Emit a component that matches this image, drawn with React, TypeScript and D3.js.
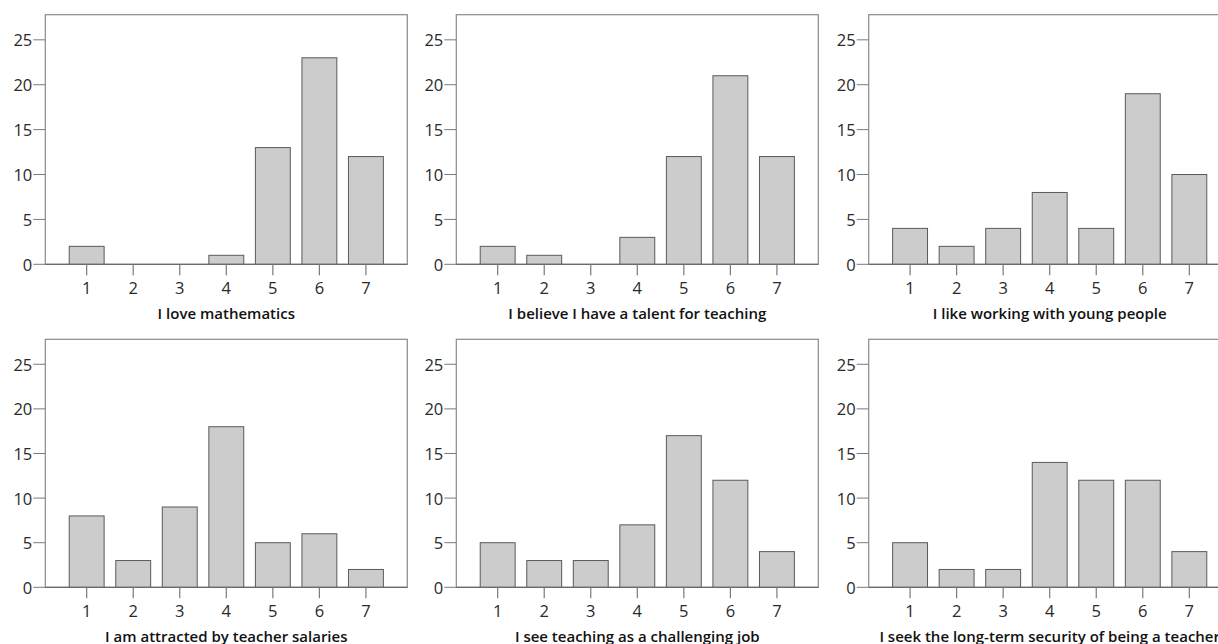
import React from "react";
import * as d3 from "d3";

const categories = ["1", "2", "3", "4", "5", "6", "7"];
const yTicks = [0, 5, 10, 15, 20, 25];

const titles = [
  "I love mathematics",
  "I believe I have a talent for teaching",
  "I like working with young people",
  "I am attracted by teacher salaries",
  "I see teaching as a challenging job",
  "I seek the long-term security of being a teacher",
];

const loveMath = [2, 0, 0, 1, 13, 23, 12];
const talentTeaching = [2, 1, 0, 3, 12, 21, 12];
const youngPeople = [4, 2, 4, 8, 4, 19, 10];
const salaries = [8, 3, 9, 18, 5, 6, 2];
const challenging = [5, 3, 3, 7, 17, 12, 4];
const security = [5, 2, 2, 14, 12, 12, 4];

const seriesList = [loveMath, talentTeaching, youngPeople, salaries, challenging, security];

const W = 1218;
const H = 644;
const colLefts = [45.3, 456.3, 868.7];
const frameW = 362;
const rows = [
  { top: 14.7, zero: 264.3 },
  { top: 339.3, zero: 587.3 },
];
const yMax = 27.8;

function Panel({ values, title, left, top, zero }: { values: number[]; title: string; left: number; top: number; zero: number }) {
  const x = d3
    .scaleBand<string>()
    .domain(categories)
    .range([left, left + frameW])
    .paddingInner(0.25)
    .paddingOuter(0.514);
  const y = d3.scaleLinear().domain([0, yMax]).range([zero, top]);
  const cx = left + frameW / 2;
  return (
    <g>
      <rect x={left} y={top} width={frameW} height={zero - top} fill="none" stroke="#8a8a8a" strokeWidth={1.2} />
      {values.map((v, i) =>
        v > 0 ? (
          <rect
            key={i}
            x={x(categories[i])!}
            y={y(v)}
            width={x.bandwidth()}
            height={zero - y(v)}
            fill="#cccccc"
            stroke="#5a5a5a"
            strokeWidth={1}
          />
        ) : null
      )}
      <line x1={left} x2={left + frameW} y1={zero} y2={zero} stroke="#6a6a6a" strokeWidth={1.2} />
      {yTicks.map((t) => (
        <g key={t}>
          <line x1={left - 12} x2={left} y1={y(t)} y2={y(t)} stroke="#7a7a7a" strokeWidth={1} />
          <text
            x={left - 13}
            y={y(t)}
            textAnchor="end"
            dominantBaseline="central"
            fontFamily="'Open Sans', 'Noto Sans', sans-serif"
            fontSize={16.5}
            fill="#2a2a2a"
          >
            {t}
          </text>
        </g>
      ))}
      {categories.map((c) => {
        const xc = x(c)! + x.bandwidth() / 2;
        return (
          <g key={c}>
            <line x1={xc} x2={xc} y1={zero} y2={zero + 11} stroke="#7a7a7a" strokeWidth={1.2} />
            <text
              x={xc}
              y={zero + 23}
              textAnchor="middle"
              dominantBaseline="central"
              fontFamily="'Open Sans', 'Noto Sans', sans-serif"
              fontSize={16.5}
              fill="#2a2a2a"
            >
              {c}
            </text>
          </g>
        );
      })}
      <text
        x={cx}
        y={zero + 48.5}
        textAnchor="middle"
        dominantBaseline="central"
        fontFamily="'Open Sans', 'Noto Sans', sans-serif"
        fontWeight={600}
        fontSize={15}
        fill="#111"
      >
        {title}
      </text>
    </g>
  );
}

export default function App() {
  return (
    <svg
      width={W}
      height={H}
      style={{ position: "absolute", left: 0, top: 0, background: "#fff" }}
    >
      <rect x={0} y={0} width={W} height={H} fill="#fff" />
      {seriesList.map((vals, i) => {
        const r = rows[Math.floor(i / 3)];
        const left = colLefts[i % 3];
        return <Panel key={i} values={vals} title={titles[i]} left={left} top={r.top} zero={r.zero} />;
      })}
    </svg>
  );
}
